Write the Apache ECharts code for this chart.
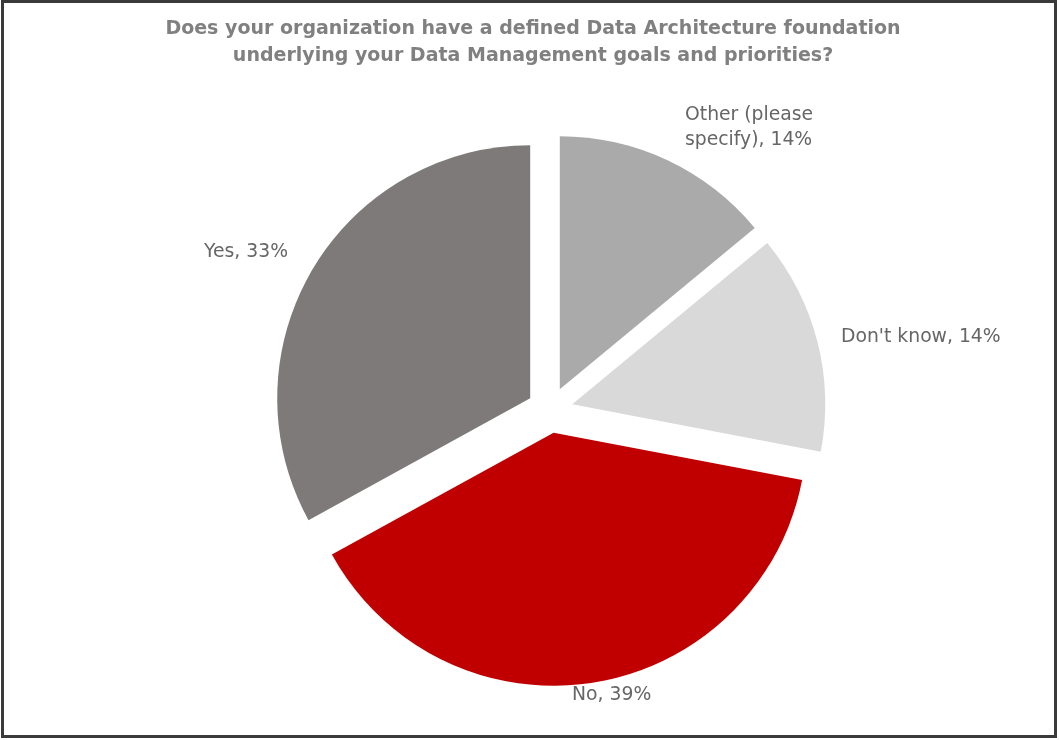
<!DOCTYPE html>
<html>
<head>
<meta charset="utf-8">
<script src="https://cdn.jsdelivr.net/npm/echarts@6/dist/echarts.min.js"></script>
<style>
html,body{margin:0;padding:0;background:#fff;}
#chart{width:1059px;height:740px;}
</style>
</head>
<body>
<div id="chart"></div>
<script>
const titleText = 'Does your organization have a defined Data Architecture foundation\nunderlying your Data Management goals and priorities?';
const categories = ['Other (please specify)', "Don't know", 'No', 'Yes'];
const values = [14, 14, 39, 33];
const colors = ['#aaaaaa', '#d9d9d9', '#c00000', '#7f7a7a'];
// label anchor points (layout only): left edge, vertical middle of label block
const labelPos = [
  {x: 685, y: 128},
  {x: 841, y: 337},
  {x: 572, y: 695},
  {x: 204, y: 252}
];

function labelText(name, value) {
  return name.replace(' specify', '\nspecify') + ', ' + value + '%';
}

const chart = echarts.init(document.getElementById('chart'), null, {renderer: 'canvas'});
chart.setOption({
  animation: false,
  backgroundColor: '#fff',
  title: {
    text: titleText,
    left: 528,
    textAlign: 'center',
    top: 11,
    textStyle: {
      fontFamily: 'DejaVu Sans',
      fontWeight: 'bold',
      fontSize: 19,
      lineHeight: 27,
      color: '#808080'
    }
  },
  graphic: [{
    type: 'rect',
    shape: {x: 2.5, y: 1.5, width: 1053, height: 735},
    style: {fill: 'none', stroke: '#3a3a3a', lineWidth: 3},
    silent: true
  }].concat(categories.map((c, i) => ({
    type: 'text',
    x: labelPos[i].x,
    y: labelPos[i].y,
    silent: true,
    style: {
      text: labelText(c, values[i]),
      fontFamily: 'DejaVu Sans',
      fontSize: 18.8,
      lineHeight: 25,
      fill: '#666666',
      align: 'left',
      verticalAlign: 'middle'
    }
  }))),
  series: [{
    type: 'pie',
    center: [550, 410],
    radius: 253,
    startAngle: 90,
    clockwise: true,
    selectedMode: 'multiple',
    selectedOffset: 23,
    emphasis: {disabled: true},
    label: {show: false},
    labelLine: {show: false},
    data: categories.map((c, i) => ({
      name: c,
      value: values[i],
      selected: true,
      itemStyle: {color: colors[i]}
    }))
  }]
});
</script>
</body>
</html>
